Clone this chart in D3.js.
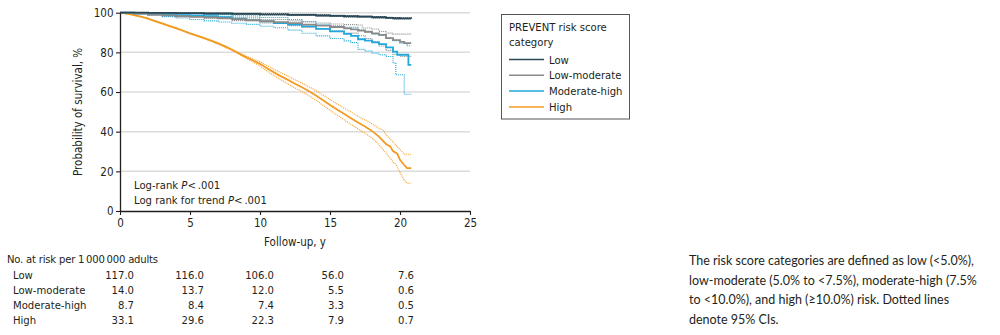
<!DOCTYPE html>
<html>
<head>
<meta charset="utf-8">
<script src="https://cdn.jsdelivr.net/npm/d3@7"></script>
<style>
  html, body { margin: 0; padding: 0; background: #fff; }
  svg { display: block; }
</style>
</head>
<body>
<svg id="chart" width="1000" height="335"></svg>
<script>
// ---------------- DATA ----------------
const categories = ["Low", "Low-moderate", "Moderate-high", "High"];
const xTicks = [0, 5, 10, 15, 20, 25];
const yTicks = [0, 20, 40, 60, 80, 100];

// Kaplan-Meier estimates [year, survival %]
const lowEst = [[0,100],[2,99.9],[4,99.8],[6,99.6],[8,99.4],[10,99.2],[12,98.9],[14,98.6],[15,98.4],[16,98.2],[17,98],[18,97.7],[19,97.4],[19.5,97.2],[20,97.1],[20.8,97]];
const lowHi  = [[0,100],[2,100],[4,99.95],[6,99.85],[8,99.7],[10,99.5],[12,99.2],[14,98.9],[15,98.7],[16,98.5],[17,98.3],[18,98],[19,97.7],[19.5,97.5],[20,97.4],[20.8,97.3]];
const lowLo  = [[0,100],[2,99.8],[4,99.6],[6,99.4],[8,99.1],[10,98.9],[12,98.6],[14,98.3],[15,98.1],[16,97.9],[17,97.7],[18,97.4],[19,97.1],[19.5,96.9],[20,96.8],[20.8,96.7]];

const lowModEst = [[0,100],[1,99.5],[2,99],[3,98.6],[4,98.3],[5,97.9],[6,97.6],[7,97.2],[8,96.7],[9,96.2],[10,95.7],[11,95.2],[12,94.7],[13,94],[14,93.5],[15,92.8],[16,92.1],[16.5,91.6],[17,91],[17.5,90.4],[18,89.6],[18.5,88.8],[19,87.2],[19.5,86.2],[20,85.3],[20.3,84.7],[20.8,84.7]];
const lowModHi  = [[0,100],[2,99.3],[4,98.7],[6,98.1],[8,97.4],[10,96.6],[12,95.8],[13,95.3],[14,94.8],[15,94.3],[16,94],[17,93.8],[17.3,92.3],[18,91.8],[18.5,90.5],[19,89.7],[19.5,89.2],[20.8,89.2]];
const lowModLo  = [[0,100],[2,98.7],[4,97.9],[6,97.1],[8,96],[10,94.8],[12,93.5],[13,92.6],[14,91.8],[15,90.8],[16,89.7],[17,88.4],[17.5,87],[18,85.5],[18.5,83.2],[19,81],[19.5,79],[20,78],[20.8,78]];

const modHighEst = [[0,100],[1,99.7],[2,99.4],[3,99.1],[4,98.8],[5,98.5],[6,98.2],[7,97.7],[8,97],[9,96.3],[10,95.6],[11,94.8],[12,94],[13,93.1],[14,91.8],[15,90.6],[16,89.3],[16.5,88.3],[17,86.6],[17.5,85.9],[18,85],[18.5,84.2],[19,82.5],[19.5,80.4],[19.8,78.8],[20.6,73.7],[20.8,73.7]];
const modHighHi  = [[0,100],[2,99.7],[4,99.3],[6,99],[8,98.4],[10,97.6],[12,96.5],[13,95.6],[14,94.2],[15,93.4],[16,92.6],[17,91.4],[17.5,90.3],[18,89.2],[18.5,88.5],[19,87.2],[19.5,85.9],[20,84.6],[20.5,83.3],[20.8,83.3]];
const modHighLo  = [[0,100],[1,99.3],[2,98.7],[3,98],[4,97.3],[5,96.6],[6,95.9],[7,95.3],[8,94.7],[9,94.1],[10,93.2],[11,92.4],[12,91.2],[13,89.6],[14,88.3],[15,87],[16,85.8],[16.5,84.9],[17,81.5],[17.5,80.6],[18,79.6],[18.5,78.8],[19,77.9],[19.5,74.6],[19.7,68.7],[20.3,58.9],[20.8,58.9]];

const highEst = [[0,100],[0.5,99.5],[1,98.8],[1.5,98],[2,97],[2.5,95.8],[3,94.6],[3.5,93.4],[4,92.2],[4.5,90.9],[5,89.6],[5.5,88.4],[6,87.2],[6.5,85.9],[7,84.5],[7.5,83],[8,81.3],[8.5,79.4],[9,77.6],[9.5,75.9],[10,74.2],[10.5,72],[11,69.9],[11.5,67.9],[12,66.1],[12.5,64.2],[13,62.4],[13.5,60.4],[14,58.3],[14.5,55.9],[15,53.5],[15.5,51.2],[16,49],[16.5,46.8],[17,44.6],[17.5,42.6],[18,40.4],[18.5,37.5],[19,33.8],[19.3,32.6],[19.5,30.2],[19.8,28.9],[20,25.8],[20.3,23.2],[20.5,21.6],[20.8,21.6]];
const highHi  = [[0,100],[1,98.9],[2,97.2],[3,94.8],[4,92.4],[5,89.8],[6,87.4],[7,84.8],[8,81.6],[8.5,79.8],[9,78.1],[9.5,76.7],[10,75.3],[10.5,73.4],[11,71.5],[11.5,69.7],[12,68],[12.5,66.2],[13,64.5],[13.5,62.6],[14,60.7],[14.5,58.5],[15,56.2],[15.5,54],[16,51.9],[16.5,49.9],[17,47.8],[17.5,45.9],[18,44],[18.5,41.6],[18.8,40.8],[19,38.5],[19.5,34.8],[20,31],[20.3,28.6],[20.8,28.6]];
const highLo  = [[0,100],[1,98.7],[2,96.8],[3,94.4],[4,92],[5,89.4],[6,87],[7,84.2],[8,81],[8.5,79],[9,77.1],[9.5,75.1],[10,73.1],[10.5,70.5],[11,68.3],[11.5,66.1],[12,64.1],[12.5,62.1],[13,60.2],[13.5,58.1],[14,55.9],[14.5,53.3],[15,50.8],[15.5,48.4],[16,46],[16.5,43.7],[17,41.4],[17.5,39.2],[18,36.8],[18.5,33.5],[19,29.2],[19.5,24.8],[19.7,23.5],[20,19.5],[20.3,15.5],[20.5,14],[20.8,14]];

// Numbers at risk per 1 000 000 adults at years 0, 5, 10, 15, 20
const riskYears = [0, 5, 10, 15, 20];
const riskLow = ["117.0", "116.0", "106.0", "56.0", "7.6"];
const riskLowMod = ["14.0", "13.7", "12.0", "5.5", "0.6"];
const riskModHigh = ["8.7", "8.4", "7.4", "3.3", "0.5"];
const riskHigh = ["33.1", "29.6", "22.3", "7.9", "0.7"];

const noteLines = [
  "The risk score categories are defined as low (<5.0%),",
  "low-moderate (5.0% to <7.5%), moderate-high (7.5%",
  "to <10.0%), and high (\u226510.0%) risk. Dotted lines",
  "denote 95% CIs."
];

// ---------------- STYLE ----------------
const colors = { "Low": "#2a4856", "Low-moderate": "#8a8a8a", "Moderate-high": "#20a8dc", "High": "#f29b22" };
const FONT = '"Liberation Sans Narrow", "DejaVu Sans Condensed", "Arial Narrow", sans-serif';
const TEXT = "#231f20";
const FS = "11.2px";

const svg = d3.select("#chart");
const x = d3.scaleLinear().domain([0, 25]).range([120, 470]);
const y = d3.scaleLinear().domain([0, 100]).range([211, 12.7]);

// gridlines
svg.append("g").selectAll("line").data(yTicks.filter(d => d > 0)).join("line")
  .attr("x1", x(0)).attr("x2", x(25))
  .attr("y1", d => y(d)).attr("y2", d => y(d))
  .attr("stroke", "#dcdcdc").attr("stroke-width", 1.5);

// curves
const stepLine = d3.line().x(d => x(d[0])).y(d => y(d[1])).curve(d3.curveStepAfter);
const smoothLine = d3.line().x(d => x(d[0])).y(d => y(d[1])).curve(d3.curveLinear);
const seriesDraw = [
  ["High", highEst, highLo, highHi, smoothLine],
  ["Moderate-high", modHighEst, modHighLo, modHighHi, stepLine],
  ["Low-moderate", lowModEst, lowModLo, lowModHi, stepLine],
  ["Low", lowEst, lowLo, lowHi, stepLine]
];
const gCurves = svg.append("g");
seriesDraw.forEach(([name, est, lo, hi, gen]) => {
  [lo, hi].forEach(ci => {
    gCurves.append("path").datum(ci).attr("d", gen)
      .attr("fill", "none").attr("stroke", colors[name])
      .attr("stroke-width", 1.1).attr("stroke-dasharray", "1,1");
  });
});
seriesDraw.forEach(([name, est, lo, hi, gen]) => {
  gCurves.append("path").datum(est).attr("d", gen)
    .attr("fill", "none").attr("stroke", colors[name])
    .attr("stroke-width", 1.8);
});

// axes
const yAxis = d3.axisLeft(y).tickValues(yTicks).tickSize(4).tickSizeOuter(0);
const gy = svg.append("g").attr("transform", `translate(${x(0)},0)`).call(yAxis);
const xAxis = d3.axisBottom(x).tickValues(xTicks).tickSize(4).tickSizeOuter(0);
const gx = svg.append("g").attr("transform", `translate(0,${y(0)})`).call(xAxis);
[gx, gy].forEach(g => {
  g.select(".domain").attr("stroke", TEXT).attr("stroke-width", 1.3);
  g.selectAll(".tick line").attr("stroke", TEXT).attr("stroke-width", 1.1);
  g.selectAll(".tick text").attr("fill", TEXT).style("font-family", FONT).style("font-size", "11.5px");
});
gy.selectAll(".tick text").attr("x", -6.5);
gx.selectAll(".tick text").attr("y", 7.5);

// axis titles
svg.append("text").attr("transform", `translate(82,${(y(0) + y(100)) / 2}) rotate(-90)`)
  .attr("text-anchor", "middle").attr("fill", TEXT)
  .style("font-family", FONT).style("font-size", "11.5px")
  .text("Probability of survival, %");
svg.append("text").attr("x", 295).attr("y", 246).attr("text-anchor", "middle").attr("fill", TEXT)
  .style("font-family", FONT).style("font-size", "11.5px")
  .text("Follow-up, y");

// log-rank annotation
const ann = [["Log-rank ", "P", "<\u2009.001"], ["Log rank for trend ", "P", "<\u2009.001"]];
ann.forEach((parts, i) => {
  const t = svg.append("text").attr("x", 134).attr("y", 188.5 + i * 15).attr("fill", TEXT)
    .style("font-family", FONT).style("font-size", FS);
  t.append("tspan").text(parts[0]);
  t.append("tspan").style("font-style", "italic").text(parts[1]);
  t.append("tspan").text(parts[2]);
});

// legend
const lg = svg.append("g");
lg.append("rect").attr("x", 501.5).attr("y", 14.5).attr("width", 128).attr("height", 104.5)
  .attr("fill", "#fff").attr("stroke", "#555").attr("stroke-width", 1);
lg.append("text").attr("x", 509).attr("y", 30.5).attr("fill", TEXT)
  .style("font-family", FONT).style("font-size", FS).text("PREVENT risk score");
lg.append("text").attr("x", 509).attr("y", 45.5).attr("fill", TEXT)
  .style("font-family", FONT).style("font-size", FS).text("category");
categories.forEach((c, i) => {
  const yy = 59.5 + i * 15.8;
  lg.append("line").attr("x1", 509).attr("x2", 544).attr("y1", yy).attr("y2", yy)
    .attr("stroke", colors[c]).attr("stroke-width", 1.5);
  lg.append("text").attr("x", 549).attr("y", yy + 4).attr("fill", TEXT)
    .style("font-family", FONT).style("font-size", FS).text(c);
});

// number at risk table
svg.append("text").attr("x", 7).attr("y", 263).attr("fill", TEXT)
  .style("font-family", FONT).style("font-size", FS).style("letter-spacing", "-0.2px")
  .text("No. at risk per 1\u2009000\u2009000 adults");
const riskRows = [riskLow, riskLowMod, riskModHigh, riskHigh];
riskRows.forEach((vals, r) => {
  const yy = 279 + r * 15;
  svg.append("text").attr("x", 13).attr("y", yy).attr("fill", TEXT)
    .style("font-family", FONT).style("font-size", FS).text(categories[r]);
  vals.forEach((v, j) => {
    svg.append("text").attr("x", x(riskYears[j]) + 14).attr("y", yy).attr("text-anchor", "end")
      .attr("fill", TEXT).style("font-family", FONT).style("font-size", FS).text(v);
  });
});

// note
noteLines.forEach((l, i) => {
  svg.append("text").attr("x", 689).attr("y", 265 + i * 19.7).attr("fill", TEXT)
    .style("font-family", '"Lato", "Open Sans", sans-serif').style("font-size", "12.5px").text(l);
});
</script>
</body>
</html>
